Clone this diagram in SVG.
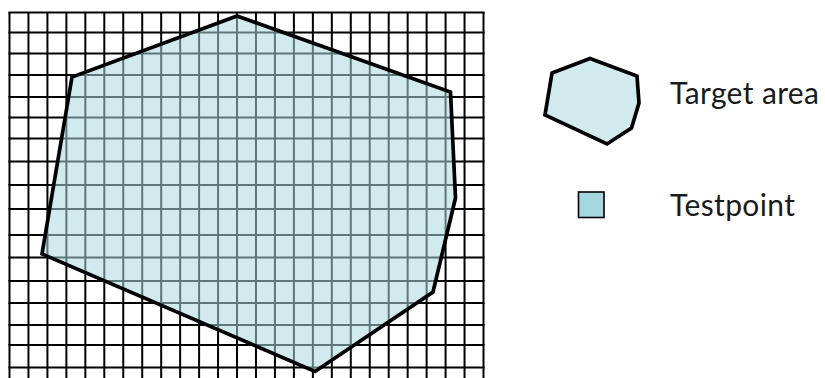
<svg xmlns="http://www.w3.org/2000/svg" width="825" height="378" viewBox="0 0 825 378">
<style>
.grid{stroke:#000;stroke-width:2;fill:none}
.area{fill:#a9d9e0;fill-opacity:0.55;stroke:none}
.edge{fill:none;stroke:#000;stroke-width:3.7;stroke-linejoin:miter}
.lbl{font-family:Lato,"Liberation Sans",sans-serif;font-size:30px;font-weight:400;fill:#1a1a1a}
</style>
<rect width="825" height="378" fill="#fff"/>
<g id="grid">
<path class="grid" d="M9.5 12V378M28.46 12V378M47.42 12V378M66.38 12V378M85.34 12V378M104.3 12V378M123.26 12V378M142.22 12V378M161.18 12V378M180.14 12V378M199.1 12V378M218.06 12V378M237.02 12V378M255.98 12V378M274.94 12V378M293.9 12V378M312.86 12V378M331.82 12V378M350.78 12V378M369.74 12V378M388.7 12V378M407.66 12V378M426.62 12V378M445.58 12V378M464.54 12V378M483.5 12V378"/>
<path class="grid" d="M8.5 12.5H484.5M8.5 32.5H484.5M8.5 53.5H484.5M8.5 75H484.5M8.5 97H484.5M8.5 117.5H484.5M8.5 138.5H484.5M8.5 161.5H484.5M8.5 185H484.5M8.5 209H484.5M8.5 235H484.5M8.5 257.5H484.5M8.5 281H484.5M8.5 303H484.5M8.5 325H484.5M8.5 345H484.5M8.5 367.5H484.5"/>
</g>
<g id="target-area">
<polygon class="area" points="237,16 450.5,92 455.5,198 433,292 315,371.5 42,254 72,77"/>
<polygon class="edge" points="237,16 450.5,92 455.5,198 433,292 315,371.5 42,254 72,77"/>
</g>
<g id="legend-target-area">
<polygon points="552,73 590,58.5 637,76 639,103 631.5,128 607,144 545,115" fill="#d0eaee" stroke="#000" stroke-width="3.7"/>
<text class="lbl" x="670" y="104" textLength="149" lengthAdjust="spacing">Target area</text>
</g>
<g id="legend-testpoint">
<rect x="578.5" y="192" width="25.5" height="25.5" fill="#a3d8df" stroke="#000" stroke-width="1.6"/>
<text class="lbl" x="670" y="216" textLength="125" lengthAdjust="spacing">Testpoint</text>
</g>
</svg>
